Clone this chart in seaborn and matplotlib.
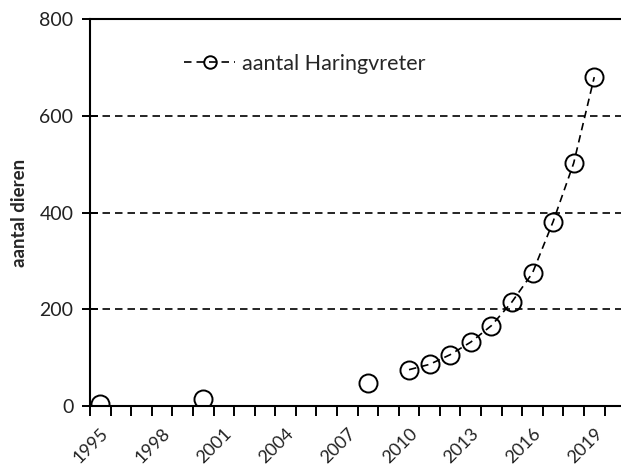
import numpy as np
import pandas as pd
import seaborn as sns
import matplotlib.pyplot as plt
from matplotlib.lines import Line2D

jaren = [1995, 2000, 2008, 2010, 2011, 2012, 2013, 2014, 2015, 2016, 2017, 2018, 2019]
aantal = [3, 15, 47, 75, 86, 106, 132, 166, 215, 275, 381, 502, 680]
label_jaren = [1995, 1998, 2001, 2004, 2007, 2010, 2013, 2016, 2019]
y_ticks = [0, 200, 400, 600, 800]

df = pd.DataFrame({'jaar': jaren, 'aantal': aantal})
# alleen opeenvolgende jaren worden verbonden
df['segment'] = (df['jaar'].diff() != 1).cumsum()

sns.set_style('white')
plt.rcParams['font.family'] = ['Lato', 'DejaVu Sans']

fig = plt.figure(figsize=(6.21, 4.65), dpi=100)
ax = fig.add_axes([0.145, 0.127, 0.855, 0.832])

for y in y_ticks[1:-1]:
    ax.axhline(y, color='black', lw=1.2, ls=(0, (4.5, 3)), zorder=1)

sns.lineplot(data=df, x='jaar', y='aantal', units='segment', estimator=None,
             color='black', lw=1.2, marker='o', markersize=13,
             markerfacecolor='none', markeredgecolor='black',
             markeredgewidth=1.4, ax=ax, legend=False, zorder=3)
for line in ax.lines[len(y_ticks) - 2:]:
    line.set_linestyle((0, (4.5, 3)))

ax.set_xlim(1994.5, 2020.3)
ax.set_ylim(0, 800)
ax.set_yticks(y_ticks)
ax.set_xticks(label_jaren)
ax.set_xticks(np.arange(1994.5, 2020, 1), minor=True)
ax.tick_params(axis='x', which='major', bottom=False, length=0, pad=14, labelsize=13)
ax.tick_params(axis='x', which='minor', bottom=True, direction='out', length=7,
               width=1.4, color='black')
ax.tick_params(axis='y', left=True, direction='inout', length=12, width=1.4,
               color='black', pad=6, labelsize=14)
for lab in ax.get_xticklabels():
    lab.set_rotation(45)
    lab.set_ha('right')
    lab.set_rotation_mode('anchor')
ax.tick_params(labelcolor='#222222')

for side in ['left', 'bottom', 'top']:
    ax.spines[side].set_color('black')
    ax.spines[side].set_linewidth(1.5)
ax.spines['right'].set_visible(False)

ax.set_xlabel('')
ax.set_ylabel('aantal dieren', fontsize=13.5, fontweight='bold', labelpad=8)

handle = Line2D([], [], color='black', lw=1.2, ls=(0, (4.5, 3)), marker='o',
                markersize=9, markerfacecolor='none', markeredgewidth=1.4)
ax.legend([handle], ['aantal Haringvreter'], loc='upper left',
          bbox_to_anchor=(0.14, 0.96), frameon=False, fontsize=15.5,
          handlelength=2.4, handletextpad=0.3)

fig.savefig('out.png', dpi=100)
